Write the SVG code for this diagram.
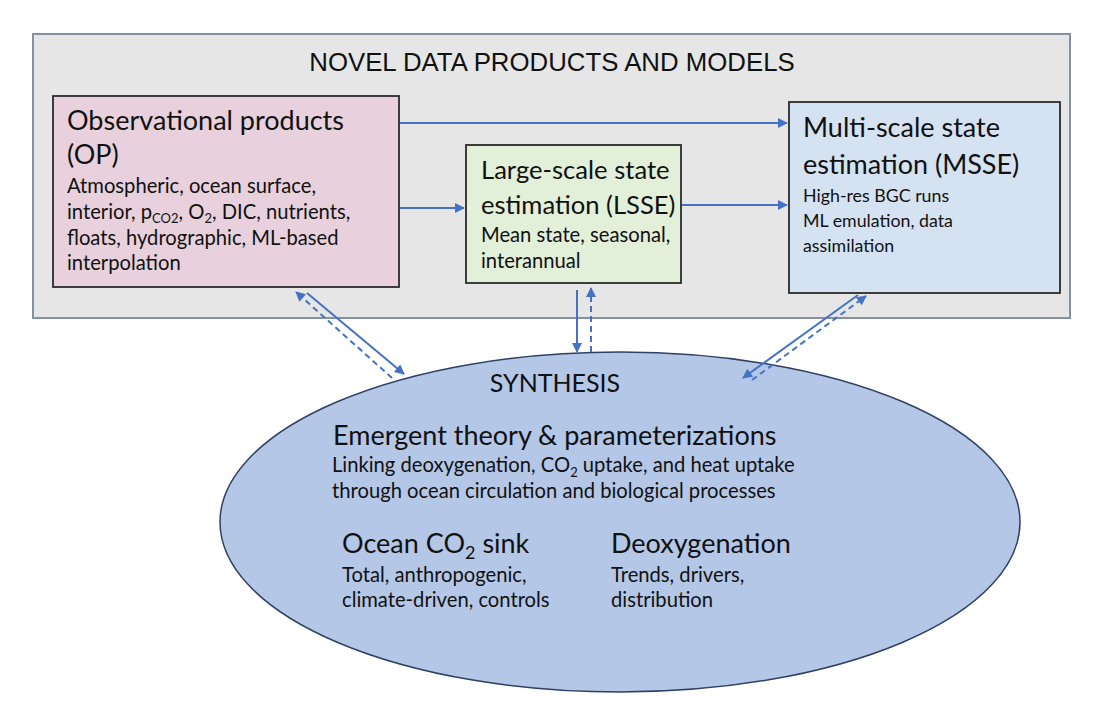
<svg xmlns="http://www.w3.org/2000/svg" width="1096" height="704" viewBox="0 0 1096 704">
<style>
.t{font-family:Lato,"Noto Sans",sans-serif;fill:#111}
.h{font-size:27px}
.hl{font-size:25.6px}
.b{font-size:20.2px}
.s{font-size:17.8px}
.sub{font-size:13px}
.ttl{font-family:"Liberation Sans",Arial,sans-serif;font-size:25.8px;fill:#111}
.box{stroke:#2b2b2b;stroke-width:1.8}
.c{stroke:#4472c4;stroke-width:2;fill:none}
.d{stroke-dasharray:6 4}
</style>
<defs>
<marker id="ah" viewBox="0 0 10 10" refX="9" refY="5" markerWidth="5.5" markerHeight="5" orient="auto" markerUnits="strokeWidth">
<path d="M0,0 L10,5 L0,10 z" fill="#4472c4"/>
</marker>
</defs>
<rect width="1096" height="704" fill="#fff"/>
<g id="frame">
<rect x="33" y="34" width="1037" height="284" fill="#e6e6e6" stroke="#8591a3" stroke-width="2"/>
<text class="ttl" x="552" y="71" text-anchor="middle">NOVEL DATA PRODUCTS AND MODELS</text>
</g>
<g id="synthesis">
<ellipse cx="620" cy="522" rx="400" ry="170" fill="#b4c7e7" stroke="#2f3f66" stroke-width="1.5"/>
<text class="t" x="555" y="392" text-anchor="middle" font-size="25">SYNTHESIS</text>
<text class="t h" x="333" y="445">Emergent theory &amp; parameterizations</text>
<text class="t b" x="332" y="472">Linking deoxygenation, CO<tspan class="sub" dy="5">2</tspan><tspan dy="-5"> uptake, and heat uptake</tspan></text>
<text class="t b" x="332" y="498">through ocean circulation and biological processes</text>
<text class="t h" x="342" y="553">Ocean CO<tspan font-size="18" dy="6">2</tspan><tspan dy="-6"> sink</tspan></text>
<text class="t b" x="342" y="582">Total, anthropogenic,</text>
<text class="t b" x="342" y="607">climate-driven, controls</text>
<text class="t h" x="611" y="553">Deoxygenation</text>
<text class="t b" x="611" y="582">Trends, drivers,</text>
<text class="t b" x="611" y="607">distribution</text>
</g>
<g id="op">
<rect class="box" x="53" y="96" width="346" height="191" fill="#e8d1dc"/>
<text class="t h" x="67" y="130">Observational products</text>
<text class="t h" x="67" y="164">(OP)</text>
<text class="t b" x="67" y="193">Atmospheric, ocean surface,</text>
<text class="t b" x="67" y="219">interior, p<tspan class="sub" dy="4">CO2</tspan><tspan dy="-4">, O</tspan><tspan class="sub" dy="4">2</tspan><tspan dy="-4">, DIC, nutrients,</tspan></text>
<text class="t b" x="67" y="245">floats, hydrographic, ML-based</text>
<text class="t b" x="67" y="270">interpolation</text>
</g>
<g id="lsse">
<rect class="box" x="466" y="145" width="215" height="138" fill="#e2efd9"/>
<text class="t hl" x="481" y="179">Large-scale state</text>
<text class="t hl" x="481" y="214">estimation (LSSE)</text>
<text class="t b" x="481" y="242">Mean state, seasonal,</text>
<text class="t b" x="481" y="268">interannual</text>
</g>
<g id="msse">
<rect class="box" x="789" y="102" width="271" height="191" fill="#d5e2f2"/>
<text class="t h" x="803" y="137">Multi-scale state</text>
<text class="t h" x="803" y="174">estimation (MSSE)</text>
<text class="t s" x="803" y="202">High-res BGC runs</text>
<text class="t s" x="803" y="227">ML emulation, data</text>
<text class="t s" x="803" y="252">assimilation</text>
</g>
<g id="connectors">
<line class="c" x1="400" y1="123" x2="787" y2="123" marker-end="url(#ah)"/>
<line class="c" x1="400" y1="208" x2="464" y2="208" marker-end="url(#ah)"/>
<line class="c" x1="682" y1="205" x2="787" y2="205" marker-end="url(#ah)"/>
<line class="c" x1="307" y1="293" x2="404" y2="374" marker-end="url(#ah)"/>
<line class="c d" x1="392" y1="378" x2="296" y2="292" marker-end="url(#ah)"/>
<line class="c" x1="577" y1="290" x2="577" y2="352" marker-end="url(#ah)"/>
<line class="c d" x1="591" y1="352" x2="591" y2="288" marker-end="url(#ah)"/>
<line class="c" x1="858" y1="295" x2="743" y2="378" marker-end="url(#ah)"/>
<line class="c d" x1="752" y1="380" x2="866" y2="296" marker-end="url(#ah)"/>
</g>
</svg>
